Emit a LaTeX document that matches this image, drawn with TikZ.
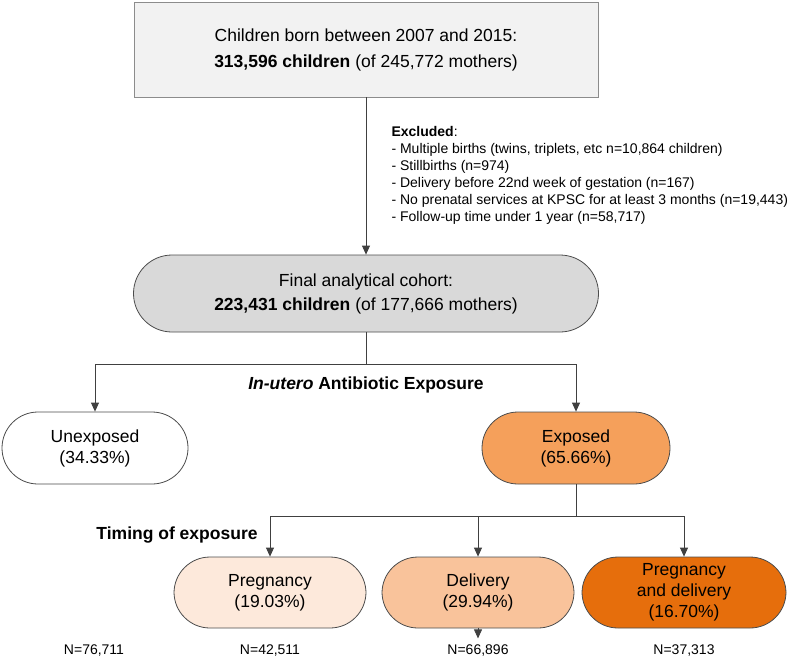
\documentclass[tikz,border=0pt]{standalone}
\usepackage{fontspec}
\setmainfont{Liberation Sans}
\usetikzlibrary{arrows.meta}

\definecolor{topfill}{HTML}{F2F2F2}
\definecolor{cohortfill}{HTML}{D9D9D9}
\definecolor{expfill}{HTML}{F5A05B}
\definecolor{pregfill}{HTML}{FDE9DB}
\definecolor{delfill}{HTML}{F9C39B}
\definecolor{bothfill}{HTML}{E66E0C}

\tikzset{
  big/.style={font=\fontsize{17.5}{24}\selectfont},
  small/.style={font=\fontsize{14}{17}\selectfont},
  pill/.style={draw=black!70, line width=0.8pt, align=center, inner sep=0pt,
    minimum height=72pt, rounded corners=36pt, font=\fontsize{17.5}{21}\selectfont},
  arr/.style={-{Triangle[width=8pt,length=9pt]}, draw=black!75, line width=0.8pt},
  link/.style={draw=black!75, line width=0.8pt},
}

\begin{document}
\begin{tikzpicture}[x=1pt, y=-1pt]
\useasboundingbox (0,0) rectangle (800,665);

\coordinate (T) at (366,49.5);
\coordinate (F) at (366,293.5);
\coordinate (U) at (95,448);
\coordinate (E) at (576,448);
\coordinate (P1) at (270,592.5);
\coordinate (P2) at (478,592.5);
\coordinate (P3) at (684,592.5);

\node[font=\fontsize{17.5}{26}\selectfont, draw=black!45, line width=0.8pt, fill=topfill, align=center, minimum width=464pt, minimum height=95pt, inner sep=0pt] (top) at (T)
  {Children born between 2007 and 2015:\\\textbf{313,596 children} (of 245,772 mothers)};

\node[small, anchor=north west, align=left] (excl) at (388,123)
  {\textbf{Excluded}:\\
   - Multiple births (twins, triplets, etc n=10,864 children)\\
   - Stillbirths (n=974)\\
   - Delivery before 22nd week of gestation (n=167)\\
   - No prenatal services at KPSC for at least 3 months (n=19,443)\\
   - Follow-up time under 1 year (n=58,717)};

\node[pill, big, fill=cohortfill, minimum width=465pt, minimum height=77pt, rounded corners=38.5pt] (cohort) at (F)
  {Final analytical cohort:\\\textbf{223,431 children} (of 177,666 mothers)};

\node[pill, fill=white, minimum width=186pt] (unexp) at (U) {Unexposed\\(34.33\%)};
\node[pill, fill=expfill, minimum width=188pt] (exp) at (E) {Exposed\\(65.66\%)};

\node[pill, fill=pregfill, minimum width=192pt, minimum height=71pt] (preg) at (P1) {Pregnancy\\(19.03\%)};
\node[pill, fill=delfill, minimum width=192pt, minimum height=71pt] (deliv) at (P2) {Delivery\\(29.94\%)};
\node[pill, fill=bothfill, minimum width=204pt, minimum height=71pt] (both) at (P3) {Pregnancy\\and delivery\\(16.70\%)};

\node[big] (expo) at (366,385) {\textbf{\textit{In-utero} Antibiotic Exposure}};
\node[big] (timing) at (177,535) {\textbf{Timing of exposure}};

\node[small] (nunexp) at (94,650) {N=76,711};
\node[small] (npreg) at (270,650) {N=42,511};
\node[small] (ndeliv) at (478,650) {N=66,896};
\node[small] (nboth) at (684,650) {N=37,313};

\draw[arr] (top.south) -- (cohort.north);

\draw[link] (cohort.south) -- ++(0,32) coordinate (split1);
\draw[arr] (split1) -| (unexp.north);
\draw[arr] (split1) -| (exp.north);

\draw[link] (exp.south) -- ++(0,32) coordinate (split2);
\draw[arr] (split2) -| (preg.north);
\draw[arr] (split2) -| (deliv.north);
\draw[arr] (split2) -| (both.north);

\draw[arr] (deliv.south) -- ++(0,10);
\end{tikzpicture}
\end{document}
